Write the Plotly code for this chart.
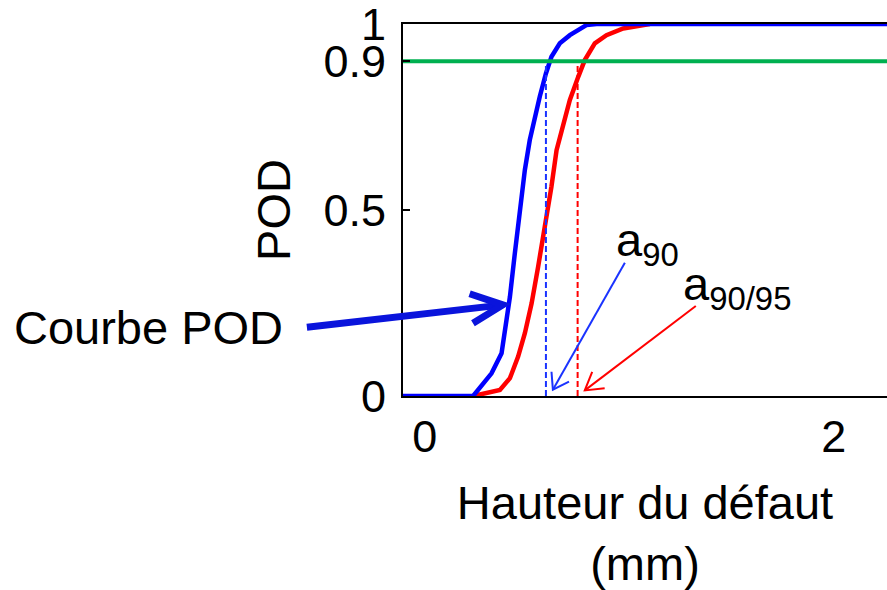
import math
import plotly.graph_objects as go

# Flaw height (mm) and probability of detection for the two curves
pod_x = [-0.107, 0.236, 0.326, 0.375, 0.399, 0.416, 0.440, 0.465, 0.489, 0.513,
         0.538, 0.562, 0.592, 0.619, 0.660, 0.709, 0.790, 0.840, 2.26]
pod_y = [0, 0, 0.061, 0.115, 0.204, 0.267, 0.384, 0.500, 0.608, 0.688,
         0.751, 0.805, 0.867, 0.912, 0.948, 0.970, 0.997, 1.0, 1.0]

pod95_x = [0.236, 0.367, 0.416, 0.456, 0.489, 0.522, 0.554, 0.587, 0.619, 0.644,
           0.676, 0.709, 0.750, 0.782, 0.831, 0.888, 0.970, 1.051, 1.10]
pod95_y = [0, 0.016, 0.048, 0.106, 0.169, 0.249, 0.348, 0.455, 0.563, 0.661,
           0.733, 0.796, 0.858, 0.903, 0.948, 0.970, 0.988, 0.997, 1.0]

pod_level = 0.9          # detection threshold
a90 = 0.592              # flaw height reaching 90 % POD
a90_95 = 0.747           # same, at 95 % confidence

x_ticks = [0, 2]
y_ticks = [0, 0.5, 0.9, 1]
y_ticktext = ["0", "0.5", "0.9", "1"]

X_RANGE = [-0.107, 2.26]
Y_RANGE = [0, 1]

FONT = "Liberation Sans, Arial, sans-serif"
W, H = 887, 590
M_L, M_R, M_T, M_B = 403, 0, 24, 194
PW, PH = W - M_L - M_R, H - M_T - M_B


def to_paper(x, y):
    px = (x - X_RANGE[0]) / (X_RANGE[1] - X_RANGE[0])
    py = (y - Y_RANGE[0]) / (Y_RANGE[1] - Y_RANGE[0])
    return px, py


def arrow_shapes(tail, tip, color, width, head_len, head_deg):
    """Straight arrow with an open (chevron) head, built in paper coordinates."""
    tx, ty = to_paper(*tail)
    hx, hy = to_paper(*tip)
    # work in screen pixels so the head angle is not distorted
    dx, dy = (tx - hx) * PW, (ty - hy) * PH
    ang = math.atan2(dy, dx)
    pts = []
    for s in (1, -1):
        a = ang + s * math.radians(head_deg)
        pts.append((hx + head_len * math.cos(a) / PW, hy + head_len * math.sin(a) / PH))
    line = dict(color=color, width=width)
    return [
        dict(type="line", xref="paper", yref="paper", x0=tx, y0=ty, x1=hx, y1=hy, line=line),
        dict(type="path", xref="paper", yref="paper",
             path=f"M {pts[0][0]},{pts[0][1]} L {hx},{hy} L {pts[1][0]},{pts[1][1]}",
             line=line),
    ]


fig = go.Figure()

fig.add_trace(go.Scatter(x=pod95_x, y=pod95_y, mode="lines",
                         line=dict(color="#ff0000", width=4.5), hoverinfo="skip"))
fig.add_trace(go.Scatter(x=pod_x, y=pod_y, mode="lines",
                         line=dict(color="#0000ff", width=4.5), hoverinfo="skip"))

# vertical markers at a90 and a90/95
fig.add_trace(go.Scatter(x=[a90, a90], y=[0, pod_level], mode="lines",
                         line=dict(color="#1a33ff", width=2, dash="6px,3px"), hoverinfo="skip"))
fig.add_trace(go.Scatter(x=[a90_95, a90_95], y=[0, pod_level], mode="lines",
                         line=dict(color="#ff0000", width=2, dash="6px,3px"), hoverinfo="skip"))

# threshold line
fig.add_trace(go.Scatter(x=X_RANGE, y=[pod_level, pod_level], mode="lines",
                         line=dict(color="#00b050", width=4), hoverinfo="skip"))

shapes = []
shapes += arrow_shapes((-0.577, 0.185), (0.381, 0.245), "#0a14dc", 7, 35, 25)
shapes += arrow_shapes((0.978, 0.358), (a90 + 0.034, 0.017), "#1a33ff", 2, 18, 34)
shapes += arrow_shapes((1.325, 0.242), (a90_95 + 0.035, 0.015), "#ff0000", 2, 20, 31)

annotations = []
cx, cy = to_paper(-2.02, 0.185)
annotations.append(dict(xref="paper", yref="paper", x=cx, y=cy, xanchor="left", yanchor="middle",
                        text="Courbe POD", showarrow=False,
                        font=dict(family=FONT, size=47, color="black")))
lx, ly = to_paper(0.925, 0.41)
annotations.append(dict(xref="paper", yref="paper", x=lx, y=ly, xanchor="left", yanchor="middle",
                        text="a<sub>90</sub>", showarrow=False,
                        font=dict(family=FONT, size=47, color="black")))
lx, ly = to_paper(1.255, 0.293)
annotations.append(dict(xref="paper", yref="paper", x=lx, y=ly, xanchor="left", yanchor="middle",
                        text="a<sub>90/95</sub>", showarrow=False,
                        font=dict(family=FONT, size=47, color="black")))

fig.update_layout(
    width=W, height=H,
    margin=dict(l=M_L, r=M_R, t=M_T, b=M_B, pad=0),
    paper_bgcolor="white", plot_bgcolor="white",
    showlegend=False,
    font=dict(family=FONT, color="black"),
    shapes=shapes,
    annotations=annotations,
    xaxis=dict(
        range=X_RANGE, showgrid=False, zeroline=False,
        showline=True, linecolor="black", linewidth=2, mirror=True,
        ticks="", tickvals=x_ticks, ticktext=[str(v) for v in x_ticks],
        tickfont=dict(family=FONT, size=45, color="black"),
        ticklabelstandoff=0,
        title=dict(text="Hauteur du défaut<br>(mm)", standoff=34,
                   font=dict(family=FONT, size=47, color="black")),
    ),
    yaxis=dict(
        range=Y_RANGE, showgrid=False, zeroline=False,
        showline=True, linecolor="black", linewidth=2, mirror=False,
        ticks="inside", ticklen=7, tickwidth=2, tickcolor="black",
        tickvals=y_ticks, ticktext=y_ticktext,
        ticklabeloverflow="allow",
        tickfont=dict(family=FONT, size=45, color="black"),
        ticklabelstandoff=6,
        title=dict(text="POD", standoff=18,
                   font=dict(family=FONT, size=47, color="black")),
    ),
)

fig.write_html("out.html")
